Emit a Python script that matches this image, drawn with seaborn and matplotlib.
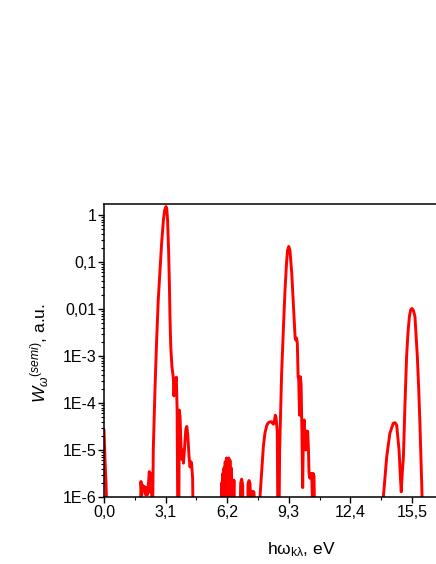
import numpy as np
import pandas as pd
import matplotlib
matplotlib.use("Agg")
import matplotlib.pyplot as plt
import seaborn as sns
from matplotlib.ticker import FixedLocator, NullFormatter, LogLocator

# photon energy, eV
energy = [
    0.0, 0.05, 0.10, 0.16,
    1.82, 1.86, 1.90, 1.95, 1.99, 2.04, 2.09, 2.14, 2.19, 2.24, 2.28, 2.33, 2.38, 2.42,
    2.45, 2.48, 2.57, 2.65, 2.73, 2.82, 2.90, 2.99, 3.05, 3.12, 3.16, 3.20, 3.25, 3.29,
    3.32, 3.36, 3.42, 3.49, 3.52, 3.56, 3.60, 3.64, 3.68, 3.72,
    3.76, 3.79, 3.83, 3.88, 3.92, 3.96, 4.00, 4.06, 4.12, 4.17, 4.22, 4.28, 4.33, 4.38,
    4.41, 4.46, 4.50,
    5.88, 5.92, 5.95, 5.98, 6.01, 6.04, 6.07, 6.10, 6.13, 6.16, 6.19, 6.22, 6.25, 6.28,
    6.31, 6.34, 6.37, 6.40, 6.43, 6.46, 6.50, 6.54, 6.58,
    6.82, 6.88, 6.93, 6.98, 7.02,
    7.20, 7.25, 7.30, 7.35, 7.40, 7.44, 7.50, 7.55, 7.60,
    7.80, 7.85, 7.93, 8.02, 8.10, 8.19, 8.27, 8.36, 8.44, 8.52, 8.56, 8.62, 8.66, 8.72, 8.76,
    8.80, 8.84, 8.94, 9.03, 9.11, 9.19, 9.24, 9.30, 9.36, 9.45, 9.52, 9.58, 9.62, 9.65,
    9.69, 9.73, 9.77, 9.80, 9.84, 9.88, 9.92, 9.96, 10.00, 10.04, 10.08, 10.12, 10.16,
    10.21, 10.25, 10.29, 10.32, 10.36, 10.40, 10.45, 10.50, 10.53, 10.57, 10.62,
    14.00, 14.06, 14.23, 14.39, 14.56, 14.65, 14.73, 14.85, 14.92, 14.96, 15.01, 15.07,
    15.15, 15.23, 15.30, 15.37, 15.44, 15.50, 15.57, 15.65, 15.77, 15.84, 15.90, 15.99,
    16.07, 19.8,
]

# log10 of W, a.u.
log_w = [
    -4.57, -5.2, -5.7, -6.5,
    -7.0, -5.67, -5.95, -5.75, -5.85, -5.78, -5.95, -5.8, -5.95, -5.7, -5.46, -5.9, -5.5, -6.3,
    -6.3, -5.0, -3.65, -2.66, -1.81, -1.17, -0.6, -0.11, 0.1, 0.18, 0.13, -0.11, -0.74, -1.45,
    -2.16, -2.8, -3.23, -3.47, -3.85, -3.5, -3.55, -3.45, -4.15, -7.0,
    -7.0, -4.15, -4.3, -5.0, -5.2, -5.0, -5.28, -4.9, -4.55, -4.5, -4.7, -5.14, -5.36, -5.25,
    -5.3, -5.6, -7.0,
    -7.0, -5.7, -6.5, -5.5, -6.5, -5.38, -6.5, -5.25, -6.5, -5.17, -6.5, -5.2, -6.5, -5.17,
    -6.5, -5.22, -6.5, -5.38, -6.5, -5.64, -6.5, -5.64, -7.0,
    -7.0, -5.7, -5.62, -5.75, -7.0,
    -7.0, -5.72, -5.65, -5.72, -6.3, -5.9, -5.88, -5.9, -7.0,
    -7.0, -6.0, -5.5, -4.93, -4.64, -4.48, -4.42, -4.40, -4.40, -4.45, -4.43, -4.26, -4.32, -4.6, -7.0,
    -7.0, -5.0, -3.37, -2.4, -1.6, -1.0, -0.75, -0.67, -0.75, -1.24, -1.8, -2.3, -2.62, -2.66,
    -2.62, -2.72, -3.45, -3.5, -4.26, -3.44, -3.6, -4.6, -5.8, -4.5, -4.36, -4.8, -5.0,
    -4.6, -4.6, -5.0, -5.5, -5.6, -5.5, -5.5, -6.2, -5.5, -5.55, -7.0,
    -7.0, -6.0, -5.14, -4.64, -4.43, -4.42, -4.47, -5.0, -5.6, -5.89, -5.5, -5.14,
    -4.0, -3.01, -2.5, -2.16, -2.01, -1.99, -2.03, -2.16, -3.01, -3.7, -4.43, -5.71,
    -7.0, -7.0,
]

x_ticks = [0.0, 3.1, 6.2, 9.3, 12.4, 15.5]
x_tick_labels = ["0,0", "3,1", "6,2", "9,3", "12,4", "15,5"]
y_ticks = [1, 0.1, 0.01, 1e-3, 1e-4, 1e-5, 1e-6]
y_tick_labels = ["1", "0,1", "0,01", "1E-3", "1E-4", "1E-5", "1E-6"]

df = pd.DataFrame({"E": energy, "W": 10.0 ** np.array(log_w)})

sns.set_theme(style="ticks")
plt.rcParams["font.family"] = ["Liberation Sans", "DejaVu Sans"]
plt.rcParams["mathtext.fontset"] = "custom"
plt.rcParams["mathtext.rm"] = "Liberation Sans"
plt.rcParams["mathtext.it"] = "Liberation Sans:italic"
plt.rcParams["mathtext.bf"] = "Liberation Sans:bold"

fig = plt.figure(figsize=(4.36, 5.64), dpi=100)
ax = fig.add_axes([104 / 436, 67 / 564, 394 / 436, 293 / 564])

sns.lineplot(data=df, x="E", y="W", ax=ax, color="#ff0000", linewidth=2.1,
             sort=False, estimator=None)

ax.set_yscale("log")
ax.set_xlim(0, 19.83)
ax.set_ylim(1e-6, 1.714)

ax.xaxis.set_major_locator(FixedLocator(x_ticks))
ax.set_xticklabels(x_tick_labels)
ax.xaxis.set_minor_locator(FixedLocator([1.55, 4.65, 7.75, 10.85, 13.95]))
ax.yaxis.set_major_locator(FixedLocator(y_ticks))
ax.set_yticklabels(y_tick_labels)
ax.yaxis.set_minor_locator(LogLocator(base=10, subs=np.arange(2, 10)))
ax.yaxis.set_minor_formatter(NullFormatter())

ax.tick_params(which="major", direction="out", length=4, width=1, colors="black",
               labelsize=11.5, pad=2)
ax.tick_params(which="minor", direction="out", length=2.5, width=0.8, colors="black")
ax.tick_params(axis="y", which="major", pad=1.5)

for side in ["left", "bottom", "top", "right"]:
    ax.spines[side].set_visible(True)
    ax.spines[side].set_color("black")
    ax.spines[side].set_linewidth(1.1)

ax.set_xlabel(r"$\mathrm{h\omega_{k\lambda}}$, eV", fontsize=12.5, color="black")
ax.set_ylabel(r"$W_{\omega}{}^{(semi)}$, a.u.", fontsize=12.5, color="black")
ax.xaxis.set_label_coords(0.5, -0.147)
ax.yaxis.set_label_coords(-0.135, 0.49)

fig.savefig("out.png", dpi=100)
